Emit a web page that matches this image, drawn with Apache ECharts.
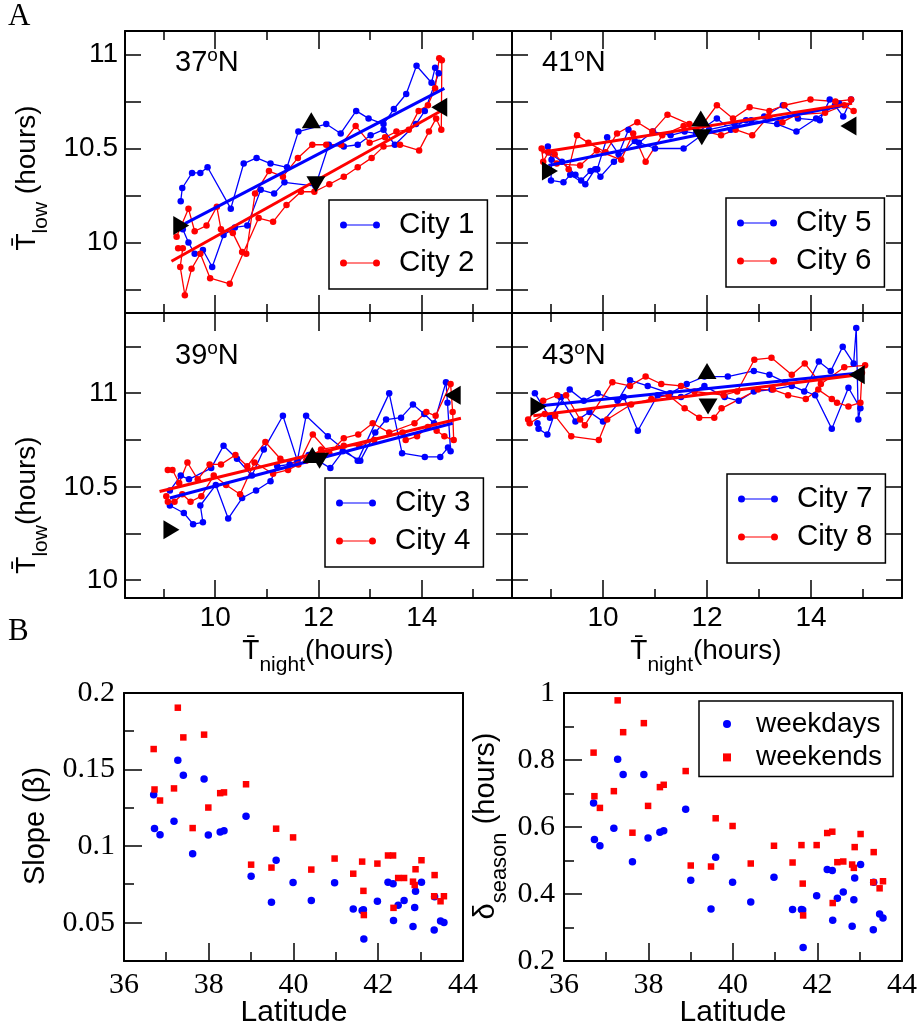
<!DOCTYPE html>
<html><head><meta charset="utf-8">
<script src="https://cdn.jsdelivr.net/npm/echarts@6/dist/echarts.min.js"></script>
<style>html,body{margin:0;padding:0;background:#fff}#c{width:921px;height:1034px}</style>
</head><body><div id="c"></div><script>
// ---------------- DATA ----------------
const city1 = [[9.33,10.22],[9.36,10.29],[9.55,10.37],[9.71,10.37],[9.85,10.40],[10.30,10.18],[10.55,10.42],[10.80,10.45],[11.07,10.42],[11.39,10.40],[11.61,10.59],[12.15,10.63],[12.43,10.58],[12.73,10.70],[12.97,10.66],[13.26,10.63],[13.46,10.71],[13.70,10.79],[13.90,10.94],[14.19,10.85],[14.26,10.93],[14.33,10.90],
  [14.06,10.70],[13.89,10.63],[13.48,10.52],[13.26,10.60],[13.01,10.57],[12.76,10.52],[12.49,10.51],[12.20,10.52],[11.94,10.30],[11.34,10.32],[11.14,10.26],[10.88,10.28],[10.62,10.09],[10.38,10.08],[10.16,10.04],[9.94,9.87],[9.76,9.96],[9.60,9.94],[9.48,10.00],[9.37,10.07]];
const city2 = [[9.25,10.03],[9.48,10.18],[9.60,10.06],[9.83,10.09],[10.03,10.19],[10.11,10.07],[10.34,10.05],[10.52,9.95],[10.60,9.94],[10.77,10.26],[11.04,10.38],[11.31,10.35],[11.60,10.45],[11.88,10.52],[12.15,10.52],[12.44,10.52],[12.72,10.62],[12.99,10.53],[13.29,10.56],[13.51,10.59],[13.75,10.60],[13.94,10.70],[14.12,10.73],[14.26,10.82],[14.34,10.98],[14.39,10.97],
  [14.38,10.60],[14.28,10.66],[14.14,10.59],[13.95,10.49],[13.58,10.52],[13.26,10.51],[13.03,10.45],[12.76,10.40],[12.49,10.35],[12.21,10.31],[11.92,10.27],[11.66,10.27],[11.38,10.20],[11.12,10.11],[10.84,10.13],[10.28,9.78],[9.90,9.81],[9.71,9.94],[9.54,9.86],[9.41,9.72],[9.32,9.87],[9.37,9.97],[9.28,9.97]];
const city3 = [[9.12,10.40],[9.39,10.36],[9.57,10.30],[9.76,10.31],[9.71,10.40],[10.01,10.51],[10.25,10.33],[10.52,10.44],[10.79,10.48],[11.07,10.53],[11.20,10.61],[11.44,10.62],[11.81,10.67],[12.23,10.60],[12.47,10.69],[12.81,10.64],[13.10,10.79],[13.31,10.86],[13.60,10.87],[13.83,10.94],[14.05,10.89],[14.24,10.84],[14.47,11.06],[14.50,10.95],
  [14.56,10.69],[14.51,10.71],[14.36,10.66],[14.06,10.66],[13.62,10.68],[13.37,11.00],[12.76,10.64],[12.18,10.77],[11.76,10.88],[11.59,10.64],[11.31,10.88],[10.94,10.70],[10.71,10.56],[10.42,10.65],[10.16,10.72],[9.92,10.60],[9.49,10.54],[9.33,10.56],[9.12,10.48]];
const city4 = [[9.08,10.59],[9.17,10.59],[9.30,10.52],[9.46,10.63],[9.66,10.54],[9.89,10.62],[10.11,10.62],[10.39,10.67],[10.62,10.61],[10.97,10.74],[11.26,10.65],[11.61,10.62],[11.89,10.78],[12.21,10.68],[12.49,10.76],[12.77,10.78],[13.05,10.84],[13.37,10.79],[13.86,10.84],[14.09,10.90],[14.27,10.88],[14.56,11.05],[14.60,10.90],
  [14.62,10.75],[14.44,10.77],[14.29,10.80],[14.12,10.82],[13.91,10.77],[13.69,10.75],[13.63,10.79],[13.08,10.75],[12.79,10.72],[12.49,10.72],[12.05,10.70],[11.76,10.64],[11.41,10.59],[11.12,10.57],[10.76,10.63],[10.48,10.46],[10.21,10.51],[9.97,10.56],[9.73,10.45],[9.52,10.42],[9.36,10.46],[9.21,10.42],[9.08,10.42],[9.05,10.45]];
const city5 = [[14.54,10.74],[14.36,10.76],[14.17,10.65],[13.75,10.66],[13.46,10.73],[13.10,10.67],[12.75,10.65],[12.46,10.60],[12.19,10.66],[11.79,10.58],[11.57,10.59],[11.30,10.57],[10.96,10.59],[10.69,10.53],[10.49,10.60],[10.30,10.47],[10.08,10.56],[9.89,10.39],[9.76,10.38],[9.58,10.33],[9.47,10.36],[9.21,10.43],[8.95,10.48],[8.94,10.51],
  [9.01,10.44],[9.00,10.33],[9.24,10.32],[9.37,10.36],[9.66,10.31],[9.85,10.39],[9.95,10.35],[10.21,10.43],[10.61,10.54],[11.00,10.50],[11.55,10.50],[12.04,10.60],[12.53,10.63],[12.85,10.65],[13.35,10.63],[13.72,10.59],[14.10,10.66],[14.46,10.73],[14.62,10.67],[14.77,10.76]];
const city6 = [[14.77,10.76],[14.47,10.75],[13.99,10.76],[13.49,10.73],[13.20,10.70],[12.82,10.72],[12.50,10.66],[12.19,10.73],[11.92,10.63],[11.66,10.63],[11.24,10.68],[10.95,10.59],[10.66,10.64],[10.27,10.58],[10.05,10.48],[9.72,10.53],[9.50,10.57],[9.34,10.39],[9.07,10.47],[8.82,10.50],
  [8.85,10.43],[8.95,10.48],[9.11,10.42],[9.56,10.41],[9.88,10.49],[10.35,10.44],[10.58,10.58],[10.82,10.43],[11.14,10.57],[11.55,10.62],[12.27,10.57],[12.55,10.60],[12.87,10.57],[13.18,10.67],[13.45,10.64],[13.72,10.68],[14.27,10.69],[14.64,10.73],[14.82,10.70]];
const city7 = [[8.69,11.00],[8.98,10.87],[9.36,11.02],[9.63,10.96],[9.90,11.00],[10.28,10.96],[10.52,11.07],[10.86,11.04],[11.29,11.00],[11.61,11.05],[11.95,11.09],[12.40,11.09],[12.90,11.12],[13.20,11.10],[13.50,11.06],[13.87,11.01],[14.15,11.17],[14.38,11.12],[14.61,11.25],[14.82,11.16],[14.87,11.35],
  [14.91,10.86],[14.95,10.92],[14.72,11.03],[14.40,10.81],[14.08,10.99],[13.63,11.04],[13.24,11.02],[12.90,11.01],[12.61,10.96],[12.34,10.98],[11.95,11.04],[11.50,10.98],[11.05,10.99],[10.67,10.80],[10.40,10.98],[10.00,10.85],[9.74,10.90],[9.47,10.85],[9.18,10.98],[8.93,10.78],[8.76,10.81],[8.74,10.84]];
const city8 = [[8.56,10.86],[8.85,10.96],[9.12,10.99],[9.29,10.99],[9.56,10.86],[9.65,10.83],[10.18,11.06],[10.52,11.04],[10.82,11.09],[11.12,11.05],[11.50,11.04],[11.76,11.01],[12.32,10.99],[12.58,11.01],[12.91,11.18],[13.24,11.19],[13.63,11.10],[13.88,11.16],[14.19,11.05],[14.64,11.14],[15.04,11.15],
  [14.98,11.11],[14.95,10.95],[14.72,10.93],[14.50,10.95],[14.40,10.97],[14.14,11.02],[13.90,10.97],[13.56,10.99],[13.27,11.02],[12.98,11.02],[12.28,10.92],[12.14,10.87],[11.85,10.87],[11.57,10.92],[11.26,10.99],[10.93,10.97],[10.54,10.94],[10.08,10.86],[9.92,10.75],[9.39,10.77],[9.08,10.88],[8.88,10.89],[8.59,10.84]];

const fit1 = [[9.41,10.10],[14.44,10.82]];
const fit2 = [[9.15,9.90],[14.44,10.71]];
const fit3 = [[9.12,10.44],[14.60,10.84]];
const fit4 = [[8.92,10.475],[14.76,10.867]];
const fit5 = [[8.95,10.41],[14.62,10.73]];
const fit6 = [[8.82,10.48],[14.79,10.74]];
const fit7 = [[8.66,10.93],[14.88,11.107]];
const fit8 = [[8.66,10.88],[14.88,11.098]];

const tri37 = [[9.34,10.09,'right'],[11.86,10.65,'up'],[11.95,10.31,'down'],[14.34,10.72,'left']];
const tri41 = [[8.98,10.38,'right'],[11.88,10.66,'up'],[11.90,10.56,'down'],[14.72,10.62,'left']];
const tri39 = [[9.15,10.27,'right'],[11.88,10.67,'up'],[12.02,10.64,'down'],[14.60,10.99,'left']];
const tri43 = [[8.76,10.93,'right'],[12.00,11.12,'up'],[12.02,10.93,'down'],[14.88,11.10,'left']];

const latitude = [36.70,36.72,36.85,37.18,37.27,37.40,37.62,37.89,37.99,38.27,38.36,38.88,39.00,39.48,39.59,39.99,40.42,40.97,41.41,41.62,41.65,41.66,41.98,42.23,42.35,42.36,42.47,42.61,42.82,42.86,42.88,43.02,43.32,43.33,43.47,43.55];
const slopeWeekdays = [0.1336,0.1116,0.1075,0.1162,0.1561,0.1463,0.095,0.1439,0.1072,0.1092,0.1101,0.1195,0.0803,0.0634,0.0908,0.0763,0.0645,0.0761,0.059,0.0579,0.0585,0.0393,0.064,0.0765,0.0754,0.0515,0.0614,0.0645,0.0476,0.0599,0.0706,0.0765,0.0452,0.067,0.0511,0.0502];
const slopeWeekends = [0.1634,0.137,0.1298,0.1377,0.1904,0.171,0.1118,0.1728,0.1252,0.1346,0.1351,0.1404,0.0879,0.086,0.1114,0.1057,0.0847,0.0919,0.082,0.0899,0.0708,0.055,0.0886,0.0939,0.0939,0.0597,0.0792,0.0792,0.0768,0.0746,0.0849,0.0908,0.0673,0.0811,0.064,0.0673];
const deltaWeekdays = [0.672,0.563,0.544,0.596,0.802,0.757,0.496,0.757,0.567,0.584,0.589,0.653,0.441,0.355,0.51,0.435,0.376,0.45,0.354,0.354,0.352,0.24,0.395,0.473,0.47,0.322,0.387,0.406,0.304,0.383,0.448,0.488,0.293,0.435,0.34,0.328];
const deltaWeekends = [0.822,0.692,0.657,0.707,0.978,0.883,0.583,0.91,0.663,0.719,0.726,0.767,0.485,0.482,0.626,0.603,0.491,0.544,0.494,0.546,0.431,0.336,0.546,0.582,0.586,0.373,0.495,0.497,0.488,0.478,0.54,0.579,0.435,0.525,0.417,0.438];

const cityNames = ['City 1','City 2','City 3','City 4','City 5','City 6','City 7','City 8'];
const latTitles = ['37','41','39','43'];
const xMajorTicks = [10,12,14];
const xMinorTicks = [9,11,13,15];
const xTickLabels = [10,12,14];
const yTicksTop = [9.75,10,10.25,10.5,10.75,11];
const yTicksBottom = [10,10.25,10.5,10.75,11,11.25];
const yTickLabels = [10,10.5,11];
const latMajorTicks = [36,38,40,42,44];
const latMinorTicks = [37,39,41,43];
const slopeMajorTicks = [0.05,0.1,0.15,0.2];
const slopeMinorTicks = [0.075,0.125,0.175];
const deltaMajorTicks = [0.2,0.4,0.6,0.8,1];
const deltaMinorTicks = [0.3,0.5,0.7,0.9];

// ---------------- STYLE / LAYOUT ----------------
const SANS = '"Liberation Sans", Arial, Helvetica, sans-serif';
const SERIF = '"Liberation Serif", "Times New Roman", serif';
const BLUE = '#0000ff', RED = '#ff0000';
const rotOf = {up:0, down:180, right:-90, left:90};

const grids = [], xAxes = [], yAxes = [], series = [], legends = [], graphics = [];

function axis(gridIndex, position, min, max, labelVals, labelStyle) {
  return {
    type:'value', gridIndex, position, min, max,
    axisLine:{show:true, onZero:false, lineStyle:{color:'#000', width:2}},
    axisTick:{show:false},
    axisLabel: labelVals ? Object.assign({show:true, customValues:labelVals, color:'#000', showMinLabel:true, showMaxLabel:true}, labelStyle) : {show:false},
    splitLine:{show:false}, minorTick:{show:false}, axisPointer:{show:false}
  };
}

// tick marks drawn through the axes' own scales (api.coord)
// item: [value, kind(0=x,1=y), length, bothSides(1) / onlyBottomLeft(0)]
function tickRender(params, api) {
  const cs = params.coordSys;
  const v = api.value(0), kind = api.value(1), len = api.value(2), both = api.value(3);
  const st = {stroke:'#000', lineWidth:1.5};
  const ch = [];
  if (kind === 0) {
    const px = Math.round(api.coord([v, 0])[0]);
    const yb = cs.y + cs.height, yt = cs.y;
    ch.push({type:'line', shape:{x1:px, y1:yb, x2:px, y2:yb - len}, style:st});
    if (both) ch.push({type:'line', shape:{x1:px, y1:yt, x2:px, y2:yt + len}, style:st});
  } else {
    const py = Math.round(api.coord([0, v])[1]);
    const xl = cs.x, xr = cs.x + cs.width;
    ch.push({type:'line', shape:{x1:xl, y1:py, x2:xl + len, y2:py}, style:st});
    if (both) ch.push({type:'line', shape:{x1:xr, y1:py, x2:xr - len, y2:py}, style:st});
  }
  return {type:'group', children:ch};
}
function tickSeries(xi, yi, items) {
  return {type:'custom', name:'ticks', xAxisIndex:xi, yAxisIndex:yi, data:items, renderItem:tickRender,
    silent:true, clip:false, z:8, animation:false, encode:{x:0, y:0}};
}

const panels = [
  {title:latTitles[0], names:[cityNames[0],cityNames[1]], data:[city1,city2], fits:[fit1,fit2], tri:tri37,
   box:{left:125,top:31,width:387,height:282}, yr:[9.625,11.125], yt:yTicksTop, xl:false, yl:true, lg:{left:329,top:200}, tp:{x:175,y:63}},
  {title:latTitles[1], names:[cityNames[4],cityNames[5]], data:[city5,city6], fits:[fit5,fit6], tri:tri41,
   box:{left:512,top:31,width:390,height:282}, yr:[9.625,11.125], yt:yTicksTop, xl:false, yl:false, lg:{left:726,top:198}, tp:{x:542,y:63}},
  {title:latTitles[2], names:[cityNames[2],cityNames[3]], data:[city3,city4], fits:[fit3,fit4], tri:tri39,
   box:{left:125,top:313,width:387,height:285}, yr:[9.905,11.43], yt:yTicksBottom, xl:true, yl:true, lg:{left:325,top:478}, tp:{x:175,y:356}},
  {title:latTitles[3], names:[cityNames[6],cityNames[7]], data:[city7,city8], fits:[fit7,fit8], tri:tri43,
   box:{left:512,top:313,width:390,height:285}, yr:[9.905,11.43], yt:yTicksBottom, xl:true, yl:false, lg:{left:727,top:474}, tp:{x:542,y:356}}
];

const tickLabelSans = {fontFamily:SANS, fontSize:28};
const legendIcon = 'path://M3.5,2.9L36.5,2.9L36.5,4.1L3.5,4.1Z M0,3.5A3.5,3.5 0 1 1 7,3.5A3.5,3.5 0 1 1 0,3.5Z M33,3.5A3.5,3.5 0 1 1 40,3.5A3.5,3.5 0 1 1 33,3.5Z';

panels.forEach((p, g) => {
  grids.push(Object.assign({outerBoundsMode:'none', containLabel:false}, p.box));
  const xr = [8.25, 15.75];
  const xi = xAxes.length;
  xAxes.push(axis(g,'bottom',xr[0],xr[1],p.xl?xTickLabels:null,Object.assign({margin:6},tickLabelSans)));
  xAxes.push(axis(g,'top',xr[0],xr[1],null));
  const yi = yAxes.length;
  yAxes.push(axis(g,'left',p.yr[0],p.yr[1],p.yl?yTickLabels:null,Object.assign({margin:7},tickLabelSans)));
  yAxes.push(axis(g,'right',p.yr[0],p.yr[1],null));
  const ticks = [].concat(
    xMajorTicks.map(v => [v,0,18,1]), xMinorTicks.map(v => [v,0,9,1]), p.yt.map(v => [v,1,16,1]));
  series.push(tickSeries(xi, yi, ticks));
  const cols = [BLUE, RED];
  p.data.forEach((d, k) => {
    series.push({type:'line', name:p.names[k], xAxisIndex:xi, yAxisIndex:yi, data:d,
      symbol:'circle', symbolSize:6.5, showSymbol:true, showAllSymbol:true,
      lineStyle:{width:1.3, color:cols[k]}, itemStyle:{color:cols[k], opacity:1}, z:3, animation:false});
  });
  p.fits.forEach((d, k) => {
    series.push({type:'line', name:'fit '+p.names[k], xAxisIndex:xi, yAxisIndex:yi, data:d,
      symbol:'none', lineStyle:{width:3, color:cols[k]}, z:4, silent:true, animation:false});
  });
  series.push({type:'scatter', name:'markers '+p.title, xAxisIndex:xi, yAxisIndex:yi,
    data:p.tri.map(t => ({value:[t[0],t[1]], symbolRotate:rotOf[t[2]]})),
    symbol:'triangle', symbolSize:[19,16], itemStyle:{color:'#000', opacity:1}, z:6, silent:true, animation:false});
  legends.push({show:true, orient:'vertical', left:p.lg.left, top:p.lg.top, data:p.names,
    icon:legendIcon, itemWidth:40, itemHeight:7, itemGap:8, padding:[10,13,11,11],
    borderColor:'#000', borderWidth:1.5, borderRadius:0, backgroundColor:'#fff', selectedMode:false,
    textStyle:{fontFamily:SANS, fontSize:29.5, color:'#000', lineHeight:30, padding:[0,0,0,14]}});
  graphics.push({type:'text', x:p.tp.x, y:p.tp.y, z:10, style:{
    text:'{n|'+p.title+'}{s|o}{n|N}', align:'left', verticalAlign:'middle', fill:'#000',
    rich:{n:{fontFamily:SANS, fontSize:29, lineHeight:34, fill:'#000'}, s:{fontFamily:SANS, fontSize:19, lineHeight:19, verticalAlign:'top', fill:'#000'}}}});
});

// bottom scatter panels
const scat = [
  {box:{left:124,top:693,width:339,height:268}, yr:[0.025,0.2], ymaj:slopeMajorTicks, ymin:slopeMinorTicks, wd:slopeWeekdays, we:slopeWeekends},
  {box:{left:564,top:693,width:338,height:268}, yr:[0.2,1], ymaj:deltaMajorTicks, ymin:deltaMinorTicks, wd:deltaWeekdays, we:deltaWeekends}
];
const serifLab = {fontFamily:SERIF, fontSize:30};
scat.forEach((p, k) => {
  const g = grids.length;
  grids.push(Object.assign({outerBoundsMode:'none', containLabel:false}, p.box));
  const xi = xAxes.length;
  xAxes.push(axis(g,'bottom',36,44,latMajorTicks,Object.assign({margin:9},serifLab)));
  xAxes.push(axis(g,'top',36,44,null));
  const yi = yAxes.length;
  yAxes.push(axis(g,'left',p.yr[0],p.yr[1],p.ymaj,Object.assign({margin:9},serifLab)));
  yAxes.push(axis(g,'right',p.yr[0],p.yr[1],null));
  const ticks = [].concat(
    latMajorTicks.map(v => [v,0,18,0]), latMinorTicks.map(v => [v,0,9,0]),
    p.ymaj.map(v => [v,1,18,0]), p.ymin.map(v => [v,1,10,0]));
  series.push(tickSeries(xi, yi, ticks));
  series.push({type:'scatter', name:'weekdays', xAxisIndex:xi, yAxisIndex:yi,
    data:latitude.map((v,i)=>[v,p.wd[i]]), symbol:'circle', symbolSize:7.5, itemStyle:{color:BLUE, opacity:1}, z:3, animation:false});
  series.push({type:'scatter', name:'weekends', xAxisIndex:xi, yAxisIndex:yi,
    data:latitude.map((v,i)=>[v,p.we[i]]), symbol:'rect', symbolSize:6.5, itemStyle:{color:RED, opacity:1}, z:4, animation:false});
});
legends.push({show:true, orient:'vertical', left:699, top:701, data:['weekdays','weekends'],
  itemWidth:8, itemHeight:8, itemGap:3.4, padding:[8,11,4,24],
  borderColor:'#000', borderWidth:1.5, borderRadius:0, backgroundColor:'#fff', selectedMode:false,
  textStyle:{fontFamily:SANS, fontSize:28, color:'#000', lineHeight:30, padding:[0,0,0,20]}});

// axis titles and panel letters
const richTitle = (fs, sfs, lh) => ({
  t:{fontFamily:SANS, fontSize:fs, lineHeight:lh, fill:'#000'},
  sub:{fontFamily:SANS, fontSize:sfs, lineHeight:sfs, verticalAlign:'bottom', fill:'#000'}
});
graphics.push(
  {type:'text', x:8, y:17, style:{text:'A', font:'31px '+SERIF, fill:'#000', verticalAlign:'middle'}},
  {type:'text', x:8, y:632, style:{text:'B', font:'31px '+SERIF, fill:'#000', verticalAlign:'middle'}},
  {type:'text', x:27, y:178, rotation:Math.PI/2, style:{text:'{t|T\u0304}{sub|low}{t| (hours)}', align:'center', verticalAlign:'middle', rich:richTitle(28,21,50)}},
  {type:'text', x:27, y:505, rotation:Math.PI/2, style:{text:'{t|T\u0304}{sub|low}{t|(hours)}', align:'center', verticalAlign:'middle', rich:richTitle(28,21,50)}},
  {type:'text', x:318, y:651, style:{text:'{t|T\u0304}{sub|night}{t|(hours)}', align:'center', verticalAlign:'middle', rich:richTitle(28,21,50)}},
  {type:'text', x:706, y:651, style:{text:'{t|T\u0304}{sub|night}{t|(hours)}', align:'center', verticalAlign:'middle', rich:richTitle(28,21,50)}},
  {type:'text', x:36, y:826, rotation:Math.PI/2, style:{text:'Slope (\u03b2)', font:'29px '+SANS, fill:'#000', align:'center', verticalAlign:'middle'}},
  {type:'text', x:486, y:826, rotation:Math.PI/2, style:{text:'{t|\u03b4}{sub|season}{t| (hours)}', align:'center', verticalAlign:'middle', rich:richTitle(29,22,50)}},
  {type:'text', x:294, y:1013, style:{text:'Latitude', font:'30px '+SANS, fill:'#000', align:'center', verticalAlign:'middle'}},
  {type:'text', x:733, y:1013, style:{text:'Latitude', font:'30px '+SANS, fill:'#000', align:'center', verticalAlign:'middle'}}
);

const chart = echarts.init(document.getElementById('c'), null, {renderer:'canvas', width:921, height:1034});
chart.setOption({
  animation:false,
  backgroundColor:'#fff',
  grid:grids, xAxis:xAxes, yAxis:yAxes, series:series, legend:legends,
  graphic:{elements:graphics}
});
</script></body></html>
